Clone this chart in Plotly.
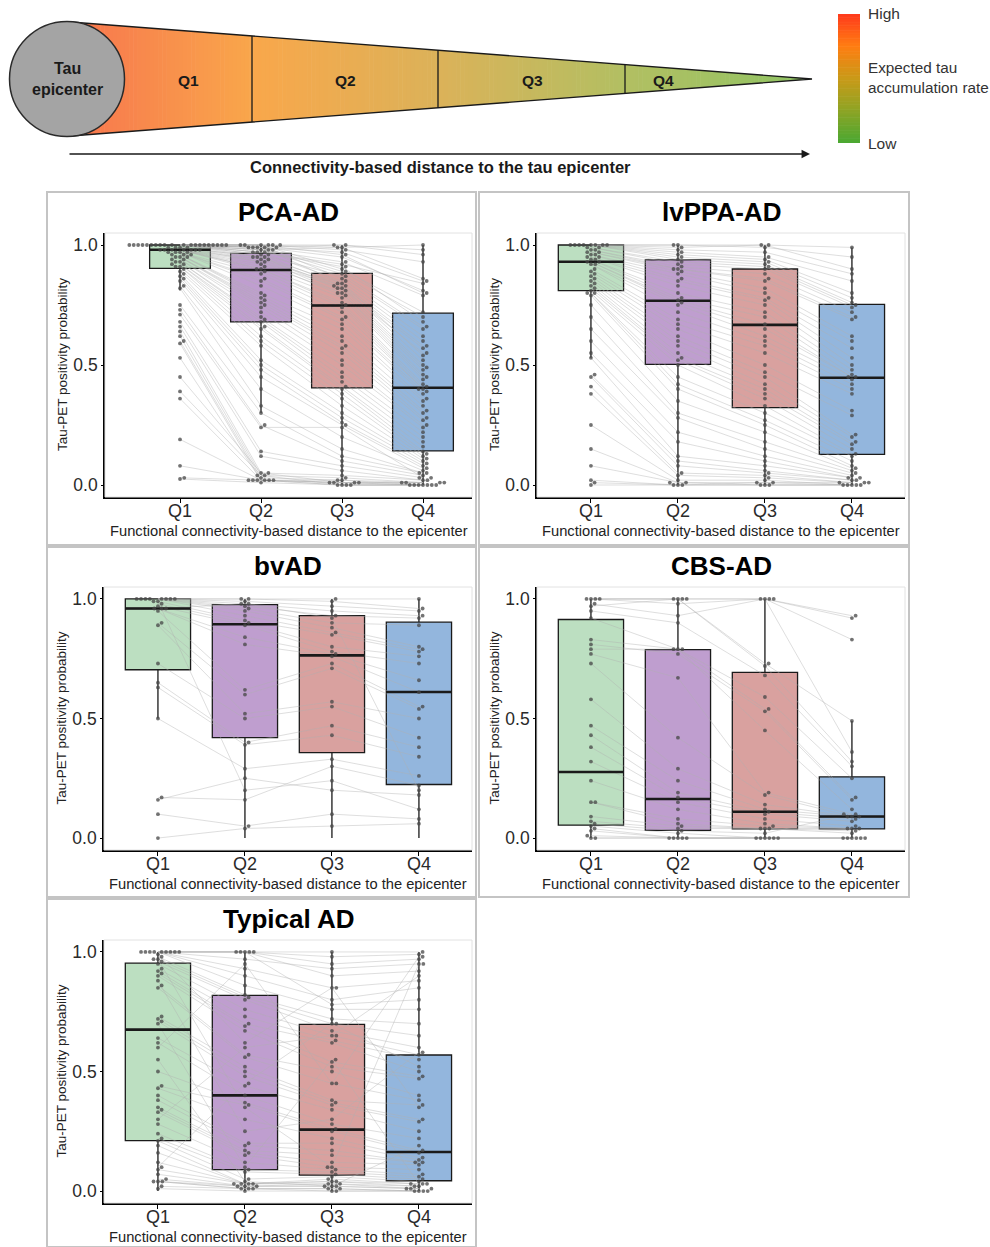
import math
import plotly.graph_objects as go

W, H = 990, 1247
CATS = ["Q1", "Q2", "Q3", "Q4"]
BOX_COLORS = ["#bcdfc1", "#bf9ecf", "#d9a19f", "#93b6dd"]
FONT = "Liberation Sans, Arial, Helvetica, sans-serif"

# ---------------- subject-level data (Q1, Q2, Q3, Q4) ----------------
PCA_AD = [
    (1.00, 1.00, 1.00, 0.98), (1.00, 1.00, 0.99, 1.00), (1.00, 0.99, 1.00, 0.96), (1.00, 1.00, 0.98, 0.93),
    (1.00, 0.99, 0.97, 0.85), (1.00, 0.98, 0.99, 0.86), (1.00, 1.00, 0.96, 0.80), (1.00, 0.99, 0.95, 0.81),
    (1.00, 0.98, 0.93, 0.79), (1.00, 0.97, 0.92, 0.84), (1.00, 1.00, 0.90, 0.72), (1.00, 0.99, 0.89, 0.70),
    (1.00, 0.97, 0.91, 0.68), (1.00, 0.98, 0.88, 0.66), (1.00, 0.96, 0.87, 0.65), (1.00, 1.00, 0.86, 0.62),
    (1.00, 0.97, 0.85, 0.60), (1.00, 0.99, 0.84, 0.58), (1.00, 0.96, 0.83, 0.57), (1.00, 0.95, 0.82, 0.55),
    (0.99, 0.95, 0.84, 0.54), (0.99, 0.94, 0.83, 0.52), (0.99, 0.93, 0.82, 0.50), (0.99, 0.95, 0.81, 0.49),
    (0.98, 0.94, 0.80, 0.48), (0.98, 0.92, 0.80, 0.46), (0.98, 0.93, 0.79, 0.45), (0.98, 0.91, 0.78, 0.44),
    (0.98, 0.90, 0.76, 0.42), (0.98, 0.90, 0.75, 0.41), (0.98, 0.89, 0.74, 0.40), (0.97, 0.88, 0.72, 0.40),
    (0.97, 0.86, 0.70, 0.39), (0.97, 0.85, 0.69, 0.38), (0.97, 0.83, 0.67, 0.36), (0.96, 0.80, 0.65, 0.35),
    (0.96, 0.79, 0.62, 0.33), (0.96, 0.78, 0.60, 0.31), (0.95, 0.77, 0.58, 0.30), (0.95, 0.76, 0.57, 0.28),
    (0.95, 0.75, 0.55, 0.27), (0.94, 0.74, 0.52, 0.25), (0.94, 0.72, 0.50, 0.24), (0.93, 0.70, 0.47, 0.22),
    (0.93, 0.69, 0.45, 0.20), (0.92, 0.68, 0.43, 0.18), (0.92, 0.66, 0.41, 0.16), (0.91, 0.65, 0.40, 0.14),
    (0.91, 0.62, 0.38, 0.13), (0.90, 0.60, 0.36, 0.12), (0.89, 0.58, 0.33, 0.11), (0.88, 0.52, 0.30, 0.10),
    (0.87, 0.50, 0.28, 0.09), (0.86, 0.48, 0.26, 0.08), (0.85, 0.45, 0.25, 0.07), (0.83, 0.40, 0.20, 0.06),
    (0.82, 0.33, 0.15, 0.05), (0.75, 0.30, 0.12, 0.05), (0.73, 0.25, 0.10, 0.04), (0.71, 0.24, 0.24, 0.03),
    (0.68, 0.14, 0.08, 0.03), (0.66, 0.12, 0.06, 0.02), (0.64, 0.05, 0.04, 0.02), (0.62, 0.04, 0.03, 0.01),
    (0.60, 0.03, 0.02, 0.01), (0.59, 0.02, 0.02, 0.00), (0.53, 0.02, 0.01, 0.00), (0.45, 0.05, 0.01, 0.01),
    (0.39, 0.04, 0.00, 0.00), (0.36, 0.02, 0.00, 0.00), (0.19, 0.02, 0.01, 0.00), (0.08, 0.02, 0.01, 0.01),
    (0.03, 0.02, 0.00, 0.00), (0.025, 0.01, 0.00, 0.00),
]
LVPPA_AD = [
    (1.00, 1.00, 1.00, 0.99), (1.00, 1.00, 0.99, 0.95), (1.00, 0.99, 1.00, 0.90), (1.00, 0.98, 0.97, 0.88),
    (1.00, 0.97, 0.95, 0.85), (1.00, 0.96, 0.94, 0.80), (1.00, 0.95, 0.93, 0.78), (1.00, 0.94, 0.92, 0.76),
    (0.99, 0.93, 0.91, 0.75), (0.99, 0.92, 0.90, 0.74), (0.98, 0.91, 0.88, 0.72), (0.98, 0.90, 0.86, 0.70),
    (0.97, 0.90, 0.85, 0.69), (0.97, 0.89, 0.82, 0.62), (0.96, 0.88, 0.80, 0.60), (0.96, 0.86, 0.78, 0.57),
    (0.95, 0.85, 0.77, 0.53), (0.95, 0.83, 0.75, 0.50), (0.94, 0.80, 0.72, 0.48), (0.94, 0.78, 0.70, 0.46),
    (0.93, 0.77, 0.67, 0.45), (0.93, 0.76, 0.65, 0.45), (0.92, 0.75, 0.62, 0.44), (0.92, 0.72, 0.60, 0.42),
    (0.90, 0.69, 0.58, 0.40), (0.89, 0.67, 0.55, 0.38), (0.88, 0.65, 0.50, 0.31), (0.87, 0.62, 0.47, 0.29),
    (0.86, 0.60, 0.45, 0.21), (0.85, 0.58, 0.42, 0.20), (0.84, 0.55, 0.40, 0.18), (0.83, 0.53, 0.38, 0.17),
    (0.82, 0.52, 0.36, 0.15), (0.81, 0.50, 0.33, 0.13), (0.80, 0.45, 0.30, 0.12), (0.80, 0.42, 0.27, 0.10),
    (0.79, 0.40, 0.25, 0.08), (0.75, 0.35, 0.22, 0.07), (0.70, 0.30, 0.18, 0.06), (0.65, 0.28, 0.15, 0.05),
    (0.60, 0.22, 0.12, 0.04), (0.55, 0.18, 0.10, 0.03), (0.53, 0.12, 0.08, 0.03), (0.46, 0.10, 0.06, 0.02),
    (0.45, 0.08, 0.05, 0.02), (0.41, 0.05, 0.04, 0.01), (0.38, 0.04, 0.03, 0.01), (0.25, 0.02, 0.02, 0.00),
    (0.15, 0.01, 0.01, 0.00), (0.08, 0.01, 0.00, 0.00), (0.02, 0.00, 0.00, 0.00), (0.01, 0.00, 0.01, 0.01),
    (0.00, 0.00, 0.00, 0.00),
]
BV_AD = [
    (1.00, 1.00, 1.00, 1.00), (1.00, 1.00, 0.99, 0.96), (1.00, 0.99, 0.97, 0.95), (1.00, 0.98, 0.95, 0.93),
    (1.00, 0.97, 0.93, 0.92), (1.00, 0.96, 0.90, 0.89), (1.00, 0.95, 0.88, 0.80), (1.00, 0.93, 0.86, 0.79),
    (0.99, 0.91, 0.85, 0.78), (0.98, 0.90, 0.80, 0.76), (0.97, 0.89, 0.78, 0.73), (0.96, 0.84, 0.77, 0.66),
    (0.96, 0.81, 0.76, 0.61), (0.95, 0.62, 0.73, 0.55), (0.90, 0.60, 0.71, 0.54), (0.89, 0.52, 0.57, 0.50),
    (0.73, 0.50, 0.55, 0.42), (0.65, 0.40, 0.47, 0.38), (0.63, 0.39, 0.43, 0.34), (0.50, 0.29, 0.33, 0.26),
    (0.17, 0.16, 0.30, 0.22), (0.16, 0.25, 0.20, 0.18), (0.10, 0.05, 0.10, 0.08), (0.00, 0.04, 0.05, 0.06),
    (0.96, 0.98, 0.92, 0.20), (0.99, 0.20, 0.24, 0.12),
]
CBS_AD = [
    (1.00, 1.00, 1.00, 0.93), (1.00, 1.00, 1.00, 0.92), (1.00, 0.98, 1.00, 0.83), (1.00, 1.00, 0.73, 0.49),
    (0.98, 0.93, 1.00, 0.36), (0.97, 1.00, 0.72, 0.32), (0.95, 0.90, 0.68, 0.30), (0.92, 0.79, 0.59, 0.25),
    (0.83, 0.79, 0.54, 0.17), (0.81, 0.77, 0.53, 0.16), (0.79, 0.79, 0.45, 0.12), (0.77, 0.67, 0.19, 0.10),
    (0.73, 0.42, 0.18, 0.09), (0.58, 0.29, 0.14, 0.09), (0.47, 0.24, 0.12, 0.09), (0.43, 0.19, 0.11, 0.08),
    (0.38, 0.17, 0.10, 0.07), (0.32, 0.15, 0.08, 0.05), (0.24, 0.12, 0.06, 0.04), (0.15, 0.08, 0.05, 0.04),
    (0.15, 0.06, 0.04, 0.04), (0.09, 0.05, 0.04, 0.03), (0.07, 0.04, 0.04, 0.02), (0.06, 0.03, 0.02, 0.10),
    (0.05, 0.02, 0.00, 0.00), (0.04, 0.00, 0.00, 0.00), (0.03, 0.00, 0.00, 0.00), (0.01, 0.00, 0.00, 0.00),
    (0.00, 0.00, 0.00, 0.00), (0.00, 0.00, 0.00, 0.00),
]
TYPICAL_AD = [
    (1.00, 1.00, 1.00, 1.00), (1.00, 1.00, 0.98, 0.99), (1.00, 1.00, 0.95, 0.97), (1.00, 0.97, 0.93, 0.95),
    (1.00, 1.00, 0.90, 0.92), (1.00, 0.93, 0.85, 0.88), (1.00, 0.90, 0.80, 0.85), (1.00, 1.00, 0.78, 0.80),
    (1.00, 0.86, 0.76, 0.76), (0.98, 0.82, 0.72, 0.70), (0.97, 0.81, 0.70, 0.65), (0.96, 0.80, 0.67, 0.60),
    (0.95, 0.76, 0.65, 0.57), (0.93, 0.73, 0.63, 0.55), (0.92, 0.70, 0.62, 0.50), (0.91, 0.69, 0.54, 0.48),
    (0.90, 0.67, 0.52, 0.47), (0.86, 0.57, 0.50, 0.40), (0.85, 0.56, 0.45, 0.38), (0.73, 0.52, 0.38, 0.36),
    (0.72, 0.50, 0.37, 0.30), (0.71, 0.48, 0.36, 0.29), (0.64, 0.44, 0.34, 0.25), (0.62, 0.40, 0.28, 0.22),
    (0.50, 0.37, 0.26, 0.17), (0.44, 0.36, 0.25, 0.16), (0.43, 0.30, 0.22, 0.14), (0.40, 0.20, 0.20, 0.13),
    (0.38, 0.19, 0.17, 0.12), (0.35, 0.17, 0.15, 0.12), (0.34, 0.16, 0.12, 0.11), (0.33, 0.15, 0.10, 0.09),
    (0.28, 0.12, 0.09, 0.07), (0.24, 0.09, 0.08, 0.06), (0.22, 0.08, 0.07, 0.05), (0.21, 0.05, 0.06, 0.04),
    (0.19, 0.03, 0.05, 0.03), (0.16, 0.03, 0.04, 0.03), (0.12, 0.03, 0.04, 0.02), (0.09, 0.03, 0.03, 0.02),
    (0.07, 0.02, 0.03, 0.01), (0.05, 0.02, 0.02, 0.01), (0.04, 0.02, 0.02, 0.01), (0.04, 0.01, 0.01, 0.00),
    (0.04, 0.01, 0.01, 0.00), (0.02, 0.01, 0.00, 0.00), (0.01, 0.00, 0.00, 0.00), (0.60, 0.95, 0.45, 0.98),
    (0.30, 0.60, 0.65, 0.90), (0.97, 0.35, 0.10, 0.95), (0.10, 0.45, 0.70, 0.52), (0.88, 0.25, 0.30, 0.58),
    (0.70, 0.10, 0.55, 0.03), (0.55, 0.04, 0.02, 0.19), (0.99, 0.62, 0.85, 0.35),
]

# ---------------- box statistics (lower hinge, median, upper hinge, whiskers) ----------------
PCA_BOX_LOW = [0.903, 0.680, 0.405, 0.142]
PCA_BOX_MED = [0.980, 0.896, 0.748, 0.405]
PCA_BOX_HIGH = [1.000, 0.965, 0.882, 0.716]
PCA_WHISK_LOW = [0.810, 0.300, 0.000, 0.000]
PCA_WHISK_HIGH = [1.000, 1.000, 1.000, 1.000]

LVPPA_BOX_LOW = [0.810, 0.503, 0.322, 0.128]
LVPPA_BOX_MED = [0.930, 0.768, 0.667, 0.447]
LVPPA_BOX_HIGH = [1.000, 0.938, 0.900, 0.753]
LVPPA_WHISK_LOW = [0.530, 0.000, 0.000, 0.000]
LVPPA_WHISK_HIGH = [1.000, 1.000, 1.000, 0.990]

BV_BOX_LOW = [0.704, 0.420, 0.357, 0.224]
BV_BOX_MED = [0.960, 0.894, 0.764, 0.611]
BV_BOX_HIGH = [1.000, 0.976, 0.930, 0.903]
BV_WHISK_LOW = [0.500, 0.000, 0.000, 0.000]
BV_WHISK_HIGH = [1.000, 1.000, 1.000, 1.000]

CBS_BOX_LOW = [0.054, 0.032, 0.038, 0.038]
CBS_BOX_MED = [0.276, 0.163, 0.110, 0.090]
CBS_BOX_HIGH = [0.914, 0.788, 0.693, 0.256]
CBS_WHISK_LOW = [0.000, 0.000, 0.000, 0.000]
CBS_WHISK_HIGH = [1.000, 1.000, 1.000, 0.490]

TYP_BOX_LOW = [0.211, 0.090, 0.067, 0.043]
TYP_BOX_MED = [0.675, 0.400, 0.257, 0.163]
TYP_BOX_HIGH = [0.953, 0.818, 0.697, 0.569]
TYP_WHISK_LOW = [0.000, 0.000, 0.000, 0.000]
TYP_WHISK_HIGH = [1.000, 1.000, 1.000, 1.000]

Y_TICKS = [0.0, 0.5, 1.0]
Y_TICK_TEXT = ["0.0", "0.5", "1.0"]

# ---------------- panel layout (pixel positions) ----------------
PANELS = [
    dict(title="PCA-AD", data=PCA_AD, box=(PCA_BOX_LOW, PCA_BOX_MED, PCA_BOX_HIGH, PCA_WHISK_LOW, PCA_WHISK_HIGH),
         px=(105, 472), py=(233, 497), xr=(-0.926, 3.605), frame=(47, 192, 476, 545)),
    dict(title="lvPPA-AD", data=LVPPA_AD, box=(LVPPA_BOX_LOW, LVPPA_BOX_MED, LVPPA_BOX_HIGH, LVPPA_WHISK_LOW, LVPPA_WHISK_HIGH),
         px=(537, 905), py=(233, 497), xr=(-0.62, 3.61), frame=(479, 192, 909, 545)),
    dict(title="bvAD", data=BV_AD, box=(BV_BOX_LOW, BV_BOX_MED, BV_BOX_HIGH, BV_WHISK_LOW, BV_WHISK_HIGH),
         px=(104, 472), py=(587, 850), xr=(-0.62, 3.61), frame=(47, 547, 476, 897)),
    dict(title="CBS-AD", data=CBS_AD, box=(CBS_BOX_LOW, CBS_BOX_MED, CBS_BOX_HIGH, CBS_WHISK_LOW, CBS_WHISK_HIGH),
         px=(537, 905), py=(587, 850), xr=(-0.62, 3.61), frame=(479, 547, 909, 897)),
    dict(title="Typical AD", data=TYPICAL_AD, box=(TYP_BOX_LOW, TYP_BOX_MED, TYP_BOX_HIGH, TYP_WHISK_LOW, TYP_WHISK_HIGH),
         px=(104, 472), py=(940, 1203), xr=(-0.62, 3.61), frame=(47, 899, 476, 1247)),
]
Y_RANGE = (-0.05, 1.05)


def swarm_offsets(vals, sx, sy, d):
    order = sorted(range(len(vals)), key=lambda i: vals[i])
    placed = []
    out = [0.0] * len(vals)
    for i in order:
        y = vals[i] * sy
        near = [(px, py) for px, py in placed if abs(py - y) < d]
        cands = [0.0]
        for px, py in near:
            dx = math.sqrt(max(d * d - (py - y) ** 2, 0.0))
            cands += [px + dx, px - dx]
        cands.sort(key=abs)
        chosen = 0.0
        for c in cands:
            if all((c - px) ** 2 + (y - py) ** 2 >= d * d - 1e-6 for px, py in near):
                chosen = c
                break
        placed.append((chosen, y))
        out[i] = chosen / sx
    return out


def hex_to_rgb(h):
    h = h.lstrip("#")
    return tuple(int(h[i:i + 2], 16) for i in (0, 2, 4))


def interp_color(stops, t):
    for (t0, c0), (t1, c1) in zip(stops[:-1], stops[1:]):
        if t <= t1:
            f = 0 if t1 == t0 else (t - t0) / (t1 - t0)
            f = min(max(f, 0), 1)
            a, b = hex_to_rgb(c0), hex_to_rgb(c1)
            return "rgb(%d,%d,%d)" % tuple(round(a[k] + (b[k] - a[k]) * f) for k in range(3))
    return "rgb(%d,%d,%d)" % hex_to_rgb(stops[-1][1])


fig = go.Figure()
shapes = []
annotations = []
layout_axes = {}

for n, p in enumerate(PANELS, start=1):
    xa = "x" if n == 1 else "x%d" % n
    ya = "y" if n == 1 else "y%d" % n
    x0, x1 = p["px"]
    y0, y1 = p["py"]
    sx = (x1 - x0) / (p["xr"][1] - p["xr"][0])
    sy = (y1 - y0) / (Y_RANGE[1] - Y_RANGE[0])
    data = p["data"]
    low, med, high, wlo, whi = p["box"]

    # subject lines
    lx, ly = [], []
    for row in data:
        lx += [0, 1, 2, 3, None]
        ly += list(row) + [None]
    fig.add_trace(go.Scatter(x=lx, y=ly, mode="lines", xaxis=xa, yaxis=ya,
                             line=dict(color="rgba(175,175,175,0.6)", width=0.7),
                             hoverinfo="skip", showlegend=False))
    # boxes
    for q in range(4):
        fig.add_trace(go.Box(x=[q], q1=[low[q]], median=[med[q]], q3=[high[q]],
                             lowerfence=[wlo[q]], upperfence=[whi[q]],
                             width=0.75, whiskerwidth=0, fillcolor=BOX_COLORS[q],
                             line=dict(color="#1a1a1a", width=1.3), boxpoints=False,
                             xaxis=xa, yaxis=ya, showlegend=False, hoverinfo="skip"))
    # medians (thicker)
    mx, my = [], []
    for q in range(4):
        mx += [q - 0.375, q + 0.375, None]
        my += [med[q], med[q], None]
    fig.add_trace(go.Scatter(x=mx, y=my, mode="lines", xaxis=xa, yaxis=ya,
                             line=dict(color="#1a1a1a", width=2.6), hoverinfo="skip", showlegend=False))
    # points (beeswarm)
    pxs, pys = [], []
    for q in range(4):
        vals = [row[q] for row in data]
        offs = swarm_offsets(vals, sx, sy, 4.4)
        pxs += [q + o for o in offs]
        pys += vals
    fig.add_trace(go.Scatter(x=pxs, y=pys, mode="markers", xaxis=xa, yaxis=ya,
                             marker=dict(color="rgba(70,70,70,0.75)", size=3.8, line=dict(width=0)),
                             hoverinfo="skip", showlegend=False))

    key = "" if n == 1 else str(n)
    layout_axes["xaxis" + key] = dict(
        domain=[x0 / W, x1 / W], range=list(p["xr"]), anchor=ya, tickvals=[0, 1, 2, 3],
        showticklabels=False,
        showline=True, linecolor="black", linewidth=1.6, ticks="outside", ticklen=4, tickcolor="black",
        showgrid=False, zeroline=False, fixedrange=True)
    layout_axes["yaxis" + key] = dict(
        domain=[1 - y1 / H, 1 - y0 / H], range=list(Y_RANGE), anchor=xa, tickvals=Y_TICKS, ticktext=Y_TICK_TEXT,
        showline=True, linecolor="black", linewidth=1.6, ticks="outside", ticklen=2, tickcolor="black",
        showgrid=False, zeroline=False, tickfont=dict(size=17.5, color="#2a2a2a", family=FONT), fixedrange=True)

    # category labels under the x axis
    for q, lab in enumerate(CATS):
        annotations.append(dict(xref=xa, yref="y6", x=q, y=y1 + 14, text=lab, showarrow=False,
                                font=dict(size=18, color="#2a2a2a", family=FONT)))

    fx0, fy0, fx1, fy1 = p["frame"]
    shapes.append(dict(type="rect", xref="x6", yref="y6", x0=fx0, x1=fx1, y0=fy0, y1=fy1,
                       line=dict(color="#c4c4c4", width=2), layer="below"))
    shapes.append(dict(type="rect", xref="x6", yref="y6", x0=x0, x1=x1, y0=y0, y1=y1,
                       line=dict(color="#e2e2e2", width=1), layer="below"))
    cx = (x0 + x1) / 2
    annotations.append(dict(xref="x6", yref="y6", x=cx, y=y0 - 21, text="<b>%s</b>" % p["title"],
                            showarrow=False, font=dict(size=26, color="black", family=FONT)))
    annotations.append(dict(xref="x6", yref="y6", x=x0 - 43, y=(y0 + y1) / 2,
                            text="Tau-PET positivity probability", textangle=-90, showarrow=False,
                            font=dict(size=13.5, color="#222", family=FONT)))
    annotations.append(dict(xref="x6", yref="y6", x=cx, y=y1 + 34,
                            text="Functional connectivity-based distance to the epicenter", showarrow=False,
                            font=dict(size=14.7, color="#222", family=FONT)))

# ---------------- top schematic ----------------
CONE_STOPS = [(0.0, "#f7704a"), (0.06, "#f8804d"), (0.25, "#f9a74b"), (0.50, "#dbb259"),
              (0.75, "#b2bf62"), (1.0, "#8fc464")]
CB_STOPS = [(0.0, "#ff3a1c"), (0.25, "#ff7d12"), (0.5, "#c99a18"), (0.72, "#95a323"), (1.0, "#4aa832")]
cone_x0, apex_x, apex_y = 67.0, 812.0, 79.0
slope = 56.0 / 729.0


def y_top(x):
    return 23 + (x - 83) * slope


def y_bot(x):
    return 135 - (x - 83) * slope


nsl = 180
step = (apex_x - cone_x0) / nsl
for k in range(nsl):
    xa_ = cone_x0 + k * step
    xb_ = min(xa_ + step + 0.6, apex_x)
    col = interp_color(CONE_STOPS, (xa_ + step / 2 - cone_x0) / (apex_x - cone_x0))
    path = "M %.2f,%.2f L %.2f,%.2f L %.2f,%.2f L %.2f,%.2f Z" % (
        xa_, y_top(xa_), xb_, y_top(xb_), xb_, y_bot(xb_), xa_, y_bot(xa_))
    shapes.append(dict(type="path", xref="x6", yref="y6", path=path, fillcolor=col,
                       line=dict(width=0), layer="above"))
shapes.append(dict(type="path", xref="x6", yref="y6",
                   path="M %.2f,%.2f L %.2f,%.2f L %.2f,%.2f" % (cone_x0, y_top(cone_x0), apex_x, apex_y,
                                                                cone_x0, y_bot(cone_x0)),
                   line=dict(color="#1a1a1a", width=1.4), layer="above"))
for xd in (252, 438, 625):
    shapes.append(dict(type="line", xref="x6", yref="y6", x0=xd, x1=xd, y0=y_top(xd), y1=y_bot(xd),
                       line=dict(color="#1a1a1a", width=1.3), layer="above"))
shapes.append(dict(type="circle", xref="x6", yref="y6", x0=9.5, x1=124.5, y0=21.5, y1=136.5,
                   fillcolor="#a4a4a4", line=dict(color="#2a2a2a", width=1.5), layer="above"))
annotations.append(dict(xref="x6", yref="y6", x=67, y=79, text="<b>Tau<br>epicenter</b>", showarrow=False,
                        font=dict(size=16, color="#1a1a1a", family=FONT)))
for lab, xl in zip(CATS, (188, 345, 532, 663)):
    annotations.append(dict(xref="x6", yref="y6", x=xl, y=80, text="<b>%s</b>" % lab, showarrow=False,
                            font=dict(size=15.5, color="#1a1a1a", family=FONT)))
annotations.append(dict(xref="x6", yref="y6", axref="x6", ayref="y6", x=810, y=154, ax=68, ay=154,
                        text="", showarrow=True, arrowhead=2, arrowsize=1.3, arrowwidth=1.3,
                        arrowcolor="#1a1a1a"))
annotations.append(dict(xref="x6", yref="y6", x=440, y=167,
                        text="<b>Connectivity-based distance to the tau epicenter</b>", showarrow=False,
                        font=dict(size=16.5, color="#1a1a1a", family=FONT)))

# colour bar legend
cb_x0, cb_x1, cb_y0, cb_y1 = 838, 860, 14, 143
ncb = 80
cstep = (cb_y1 - cb_y0) / ncb
for k in range(ncb):
    ya_ = cb_y0 + k * cstep
    shapes.append(dict(type="rect", xref="x6", yref="y6", x0=cb_x0, x1=cb_x1, y0=ya_,
                       y1=min(ya_ + cstep + 0.6, cb_y1),
                       fillcolor=interp_color(CB_STOPS, (k + 0.5) / ncb), line=dict(width=0), layer="above"))
annotations.append(dict(xref="x6", yref="y6", x=866, y=13, text="High", showarrow=False, xanchor="left",
                        font=dict(size=15.5, color="#333", family=FONT)))
annotations.append(dict(xref="x6", yref="y6", x=866, y=77, text="Expected tau<br>accumulation rate",
                        showarrow=False, xanchor="left", align="left",
                        font=dict(size=15.3, color="#333", family=FONT)))
annotations.append(dict(xref="x6", yref="y6", x=866, y=143, text="Low", showarrow=False, xanchor="left",
                        font=dict(size=15.5, color="#333", family=FONT)))

layout_axes["xaxis6"] = dict(domain=[0, 1], range=[0, W], visible=False, anchor="y6", fixedrange=True)
layout_axes["yaxis6"] = dict(domain=[0, 1], range=[H, 0], visible=False, anchor="x6", fixedrange=True)

fig.update_layout(width=W, height=H, margin=dict(l=0, r=0, t=0, b=0), paper_bgcolor="white",
                  plot_bgcolor="rgba(0,0,0,0)", showlegend=False, boxmode="overlay",
                  font=dict(family=FONT), shapes=shapes, annotations=annotations, **layout_axes)

fig.write_html("out.html", config={"displayModeBar": False},
               post_script="document.body.style.margin='0';")
